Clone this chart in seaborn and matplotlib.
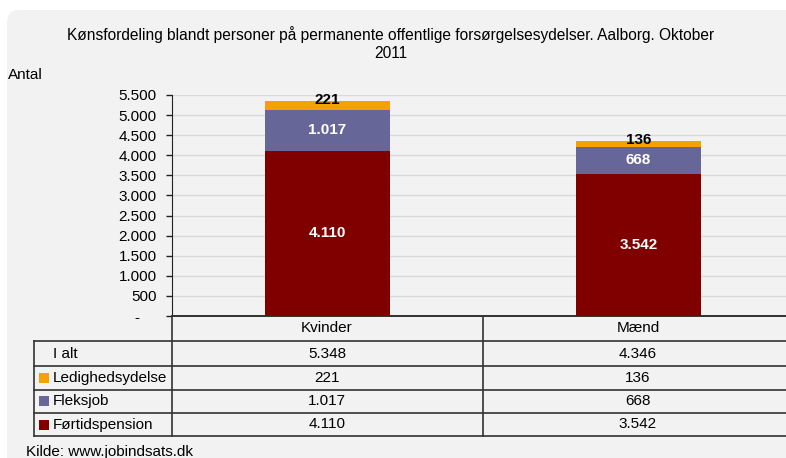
import matplotlib
matplotlib.use("Agg")
import matplotlib.pyplot as plt
import seaborn as sns
import pandas as pd
from matplotlib.patches import FancyBboxPatch, Rectangle
from matplotlib.lines import Line2D
from matplotlib.transforms import IdentityTransform

# Data (Aalborg, oktober 2011)
kategorier = ["Kvinder", "Mænd"]
serier = ["Ledighedsydelse", "Fleksjob", "Førtidspension"]
foertidspension = [4110, 3542]
fleksjob = [1017, 668]
ledighedsydelse = [221, 136]
y_ticks = [0, 500, 1000, 1500, 2000, 2500, 3000, 3500, 4000, 4500, 5000, 5500]

farver = {"Ledighedsydelse": "#f5a100", "Fleksjob": "#666699", "Førtidspension": "#800000"}

W, H = 786, 458
FS = 11
plt.rcParams["font.family"] = ["Liberation Sans", "DejaVu Sans"]

def dk(v):
    return f"{v:,}".replace(",", ".")

def fx(x):
    return x / W

def fy(y):
    return 1 - y / H

df = pd.DataFrame({
    "kategori": kategorier,
    "Førtidspension": foertidspension,
    "Fleksjob": fleksjob,
    "Ledighedsydelse": ledighedsydelse,
})
df["top_fleks"] = df["Førtidspension"] + df["Fleksjob"]
df["I alt"] = df["top_fleks"] + df["Ledighedsydelse"]

fig = plt.figure(figsize=(W / 100, H / 100), dpi=100)
fig.patch.set_facecolor("white")

# grey rounded panel behind everything
panel = FancyBboxPatch((7, -30), 820, H - 10 + 30, boxstyle="round,pad=0,rounding_size=12",
                       transform=IdentityTransform(), facecolor="#f1f2f1", edgecolor="none",
                       zorder=-10)
fig.patches.append(panel)

# plot area
ax = fig.add_axes([fx(172), fy(316), fx(794) - fx(172), fy(95) - fy(316)])
ax.set_facecolor("none")

# stacked bars drawn back to front
sns.barplot(data=df, x="kategori", y="I alt", color=farver["Ledighedsydelse"], width=0.4,
            saturation=1, errorbar=None, ax=ax, zorder=3)
sns.barplot(data=df, x="kategori", y="top_fleks", color=farver["Fleksjob"], width=0.4,
            saturation=1, errorbar=None, ax=ax, zorder=3)
sns.barplot(data=df, x="kategori", y="Førtidspension", color=farver["Førtidspension"], width=0.4,
            saturation=1, errorbar=None, ax=ax, zorder=3)

ax.set_xlim(-0.5, 1.5)
ax.set_ylim(0, 5500)
ax.set_yticks(y_ticks)
ax.set_yticklabels(["-    "] + [dk(v) for v in y_ticks[1:]], fontsize=FS)
ax.tick_params(axis="y", length=4, width=1, pad=7, color="#222222")
ax.set_xticks([])
ax.set_xlabel("")
ax.set_ylabel("")
ax.grid(axis="y", color="#d9d9d9", lw=1, zorder=0)
ax.set_axisbelow(True)
for s in ["top", "right"]:
    ax.spines[s].set_visible(False)
ax.spines["left"].set_color("#222222")
ax.spines["bottom"].set_color("#111111")
ax.spines["bottom"].set_linewidth(1.2)

# segment labels
for i, row in df.iterrows():
    ax.text(i, row["Førtidspension"] / 2, dk(row["Førtidspension"]), ha="center", va="center",
            color="white", fontsize=FS, fontweight="bold", zorder=5)
    ax.text(i, row["Førtidspension"] + row["Fleksjob"] / 2, dk(row["Fleksjob"]), ha="center",
            va="center", color="white", fontsize=FS, fontweight="bold", zorder=5)
    ax.text(i, row["I alt"] + 40, dk(row["Ledighedsydelse"]), ha="center", va="center",
            color="black", fontsize=FS, fontweight="bold", zorder=5)

# titles
fig.text(fx(391), fy(35), "Kønsfordeling blandt personer på permanente offentlige forsørgelsesydelser. Aalborg. Oktober",
         ha="center", va="center", fontsize=11.2)
fig.text(fx(391), fy(53), "2011", ha="center", va="center", fontsize=11.2)
fig.text(fx(8), fy(75), "Antal", ha="left", va="center", fontsize=FS)

# data table below the chart
lc = "#333333"
rows_y = [341, 366, 389.5, 413, 436]
for y in rows_y:
    fig.add_artist(Line2D([fx(34), fx(800)], [fy(y), fy(y)], color=lc, lw=1.2))
fig.add_artist(Line2D([fx(34), fx(34)], [fy(341), fy(436)], color=lc, lw=1.2))
fig.add_artist(Line2D([fx(172), fx(172)], [fy(316), fy(436)], color=lc, lw=1.2))
fig.add_artist(Line2D([fx(482.5), fx(482.5)], [fy(316), fy(436)], color=lc, lw=1.2))

col_x = [327, 638]
for cx, k in zip(col_x, kategorier):
    fig.text(fx(cx), fy(328.5), k, ha="center", va="center", fontsize=FS)

tabel = [("I alt", list(df["I alt"]))] + [(s, list(df[s])) for s in serier]
for j, (navn, vals) in enumerate(tabel):
    yc = (rows_y[j] + rows_y[j + 1]) / 2
    if navn in farver:
        fig.add_artist(Rectangle((fx(39), fy(yc + 5)), fx(10), fy(yc - 5) - fy(yc + 5),
                                 facecolor=farver[navn], edgecolor="none"))
    fig.text(fx(53), fy(yc), navn, ha="left", va="center", fontsize=FS)
    for cx, v in zip(col_x, vals):
        fig.text(fx(cx), fy(yc), dk(v), ha="center", va="center", fontsize=FS)

fig.text(fx(26), fy(452), "Kilde: www.jobindsats.dk", ha="left", va="center", fontsize=FS)

fig.savefig("out.png", dpi=100)
